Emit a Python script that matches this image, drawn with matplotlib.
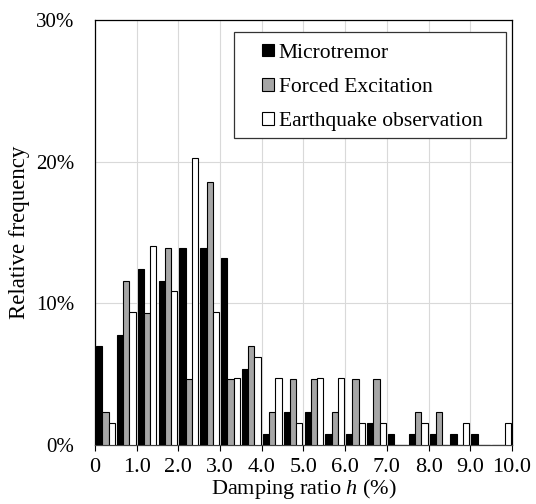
import numpy as np
import matplotlib.pyplot as plt
from matplotlib.patches import Rectangle

plt.rcParams['font.family'] = ['Liberation Serif', 'DejaVu Serif']
plt.rcParams['mathtext.fontset'] = 'custom'
plt.rcParams['mathtext.rm'] = 'Liberation Serif'
plt.rcParams['mathtext.it'] = 'Liberation Serif:italic'

# bins of damping ratio h (%), width 0.5
bin_left = np.arange(0, 10, 0.5)

# relative frequency (%)
microtremor = [7.0, 7.8, 12.4, 11.6, 13.9, 13.9, 13.2, 5.4, 0.8, 2.3,
               2.3, 0.8, 0.8, 1.55, 0.8, 0.8, 0.8, 0.8, 0.8, 0.0]
forced = [2.3, 11.6, 9.3, 13.9, 4.65, 18.6, 4.65, 7.0, 2.3, 4.65,
          4.65, 2.3, 4.65, 4.65, 0.0, 2.3, 2.3, 0.0, 0.0, 0.0]
earthquake = [1.55, 9.4, 14.05, 10.9, 20.3, 9.4, 4.7, 6.25, 4.7, 1.55,
              4.7, 4.7, 1.55, 1.55, 0.0, 1.55, 0.0, 1.55, 0.0, 1.55]

series = [("Microtremor", microtremor, "black"),
          ("Forced Excitation", forced, "#a6a6a6"),
          ("Earthquake observation", earthquake, "white")]

fig = plt.figure(figsize=(5.36, 5.04), dpi=100)
ax = fig.add_axes([0.1772, 0.117, 0.778, 0.843])

w = 0.15
for i, (name, vals, col) in enumerate(series):
    ax.bar(bin_left + 0.025 + i * w, vals, width=w, align='edge',
           color=col, edgecolor='black', linewidth=0.8, label=name, zorder=3)

ax.set_xlim(0, 10)
ax.set_ylim(0, 30)
ax.set_xticks(np.arange(0, 11, 1))
ax.set_xticklabels(['0'] + ['%.1f' % v for v in range(1, 11)])
ax.set_yticks([0, 10, 20, 30])
ax.set_yticklabels(['0%', '10%', '20%', '30%'])
ax.tick_params(axis='x', direction='out', length=4, labelsize=16, pad=5)
ax.tick_params(axis='y', length=0, labelsize=15, pad=15)
ax.grid(color='#d9d9d9', linewidth=0.8, zorder=0)
ax.set_axisbelow(True)
for s in ax.spines.values():
    s.set_color('black')
    s.set_linewidth(0.9)
ax.spines['bottom'].set_color('#404040')

ax.set_xlabel('Damping ratio $h$ (%)', fontsize=16, labelpad=0)
ax.set_ylabel('Relative frequency', fontsize=16.5, labelpad=4)

# legend frame drawn separately (wide left margin like the original)
ax.add_patch(Rectangle((0.333, 0.722), 0.653, 0.25, transform=ax.transAxes,
                       facecolor='white', edgecolor='#333333', linewidth=0.9,
                       zorder=4))
leg = ax.legend(loc='upper left', bbox_to_anchor=(0.4005, 0.945), fontsize=15.5,
                frameon=False, handlelength=0.55, handleheight=0.55,
                handletextpad=0.22, labelspacing=0.7, borderpad=0,
                borderaxespad=0)
leg.set_zorder(5)

fig.savefig('out.png', dpi=100)
